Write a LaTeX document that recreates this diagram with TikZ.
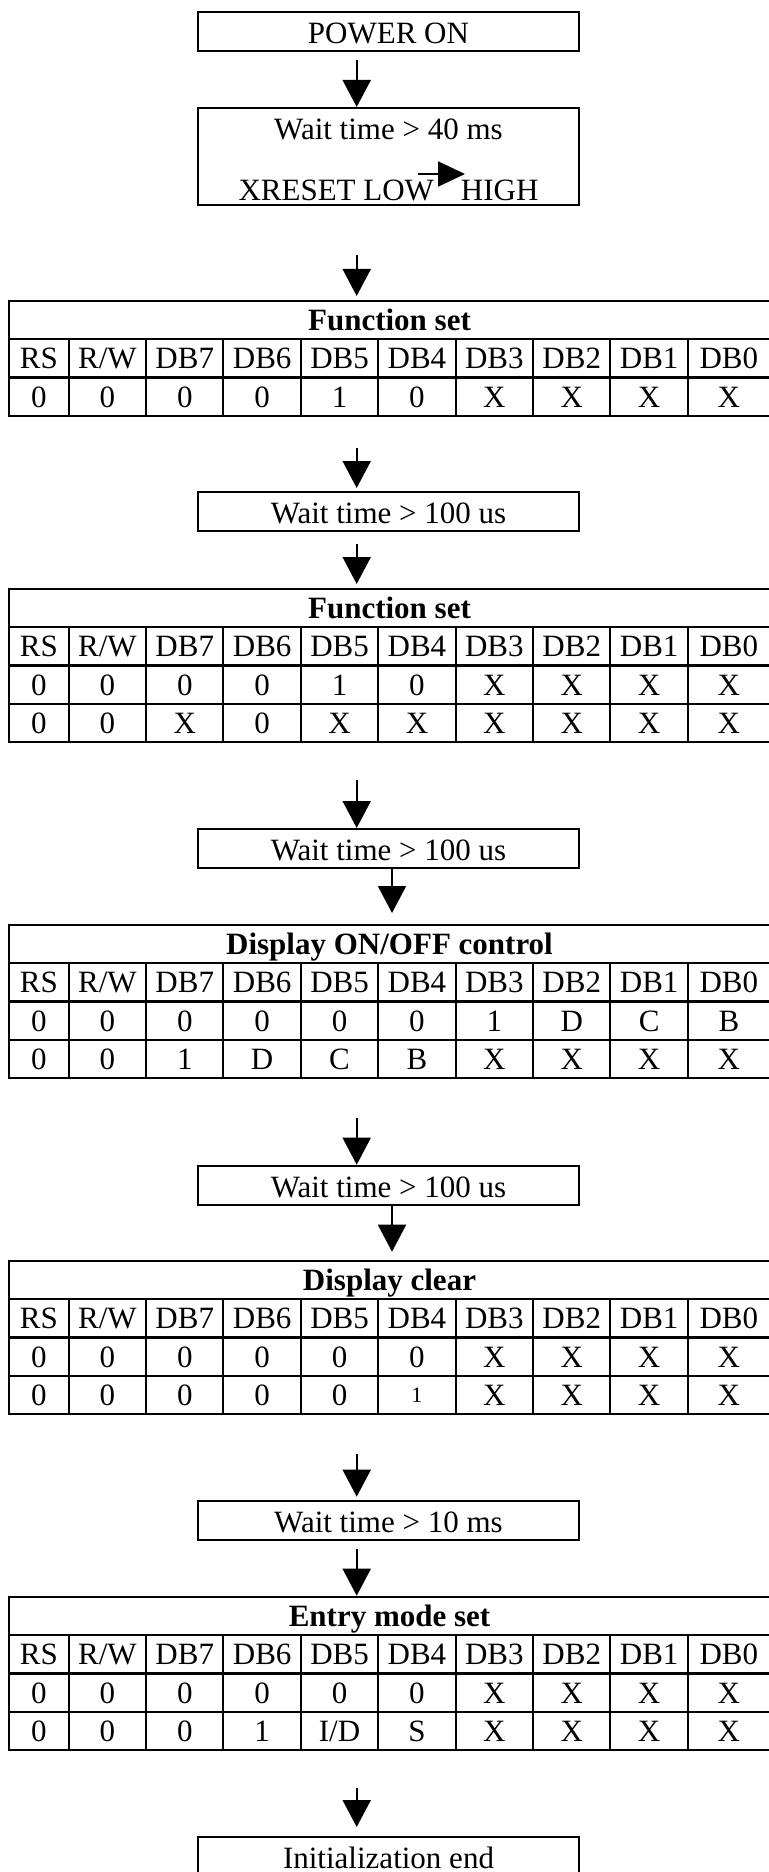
\documentclass[tikz,border=0pt]{standalone}
\usepackage{fontspec}
\setmainfont{Liberation Serif}
\usepackage{array}
\usetikzlibrary{positioning,calc,arrows.meta}
\newcolumntype{C}[1]{>{\centering\arraybackslash}p{#1}}
\newcolumntype{B}{|C{28.75pt}|C{37.7pt}|C{37.7pt}|C{37.7pt}|C{37.7pt}|C{37.7pt}|C{37.7pt}|C{37.7pt}|C{37.7pt}|C{40pt}}
\setlength{\arrayrulewidth}{1pt}
\setlength{\tabcolsep}{0pt}
\setlength{\extrarowheight}{5.7pt}
\newcommand{\bitnames}{RS & R/W & DB7 & DB6 & DB5 & DB4 & DB3 & DB2 & DB1 & DB0}
\newcommand{\hdrule}{\noalign{\hrule height 1.5pt}}

\begin{document}
\begin{tikzpicture}[
  bx/.style={draw,line width=1pt,minimum width=190.5pt,inner sep=0pt,%
    font={\fontsize{15.5}{30.5}\selectfont},},%
  sl/.style={bx,minimum height=19.5pt,text height=11.9pt,text depth=0pt,},%
  tb/.style={inner sep=0pt,outer sep=0pt,font={\fontsize{15.5}{12.3}\selectfont},},%
  e/.style={-{Triangle[length=13.5pt,width=14pt]},line width=1pt,},%
  ih/.style={-{Triangle[length=13.5pt,width=12.5pt]},line width=1pt,},%
  ]
  \useasboundingbox (0,0) rectangle (384pt,-936pt);

  \node (power) [sl] at (194.25pt,-15.85pt) {POWER ON};

  \node (wait) [bx,below=27.4pt of power,minimum height=48.5pt,align=center%
  ] {\rule{0pt}{13.4pt}Wait time > 40 ms\\XRESET LOW\hspace{13.5pt}HIGH};
  \coordinate (low) at ($(wait.center)+(14.75pt,-8.75pt)$);
  \coordinate (high) at ($(wait.center)+(38.25pt,-8.75pt)$);

  \node (fset) [tb,below=46.85pt of wait] {\begin{tabular}{B}
      \hline
      \multicolumn{10}{|c}{\bfseries Function set}\\ \hline
      \bitnames\\ \hdrule
      0 & 0 & 0 & 0 & 1 & 0 & X & X & X & X\\ \hline
    \end{tabular}};

  \node (wait2) [sl,below=37.15pt of fset] {Wait time > 100 us};

  \node (fset2) [tb,below=28pt of wait2] {\begin{tabular}{B}
      \hline
      \multicolumn{10}{|c}{\bfseries Function set}\\ \hline
      \bitnames\\ \hdrule
      0 & 0 & 0 & 0 & 1 & 0 & X & X & X & X\\ \hline
      0 & 0 & X & 0 & X & X & X & X & X & X\\ \hline
    \end{tabular}};

  \node (wait3) [sl,below=42.5pt of fset2] {Wait time > 100 us};

  \node (disp) [tb,below=27.5pt of wait3] {\begin{tabular}{B}
      \hline
      \multicolumn{10}{|c}{\bfseries Display ON/OFF control}\\ \hline
      \bitnames\\ \hdrule
      0 & 0 & 0 & 0 & 0 & 0 & 1 & D & C & B\\ \hline
      0 & 0 & 1 & D & C & B & X & X & X & X\\ \hline
    \end{tabular}};

  \node (wait4) [sl,below=42.85pt of disp] {Wait time > 100 us};

  \node (clear) [tb,below=27.15pt of wait4] {\begin{tabular}{B}
      \hline
      \multicolumn{10}{|c}{\bfseries Display clear}\\ \hline
      \bitnames\\ \hdrule
      0 & 0 & 0 & 0 & 0 & 0 & X & X & X & X\\ \hline
      0 & 0 & 0 & 0 & 0 & {\fontsize{11}{12}\selectfont\raisebox{1.5pt}{1}} & X & X & X & X\\ \hline
    \end{tabular}};

  \node (wait5) [sl,below=42.5pt of clear] {Wait time > 10 ms};

  \node (entry) [tb,below=27.35pt of wait5] {\begin{tabular}{B}
      \hline
      \multicolumn{10}{|c}{\bfseries Entry mode set}\\ \hline
      \bitnames\\ \hdrule
      0 & 0 & 0 & 0 & 0 & 0 & X & X & X & X\\ \hline
      0 & 0 & 0 & 1 & I/D & S & X & X & X & X\\ \hline
    \end{tabular}};

  \node (done) [sl,below=42.65pt of entry] {Initialization end};

  \draw [ih] (low) -- (high);
  \draw [e,shorten <=3.9pt] ([xshift=-15.9pt]power.south) -- ([xshift=-15.9pt]wait.north);
  \draw [e,shorten <=24.5pt,shorten >=1.85pt] ([xshift=-15.9pt]wait.south) -- ([xshift=-15.9pt]fset.north);
  \draw [e,shorten <=15.65pt,shorten >=1.5pt] ([xshift=-15.9pt]fset.south) -- ([xshift=-15.9pt]wait2.north);
  \draw [e,shorten <=6pt,shorten >=2pt] ([xshift=-15.9pt]wait2.south) -- ([xshift=-15.9pt]fset2.north);
  \draw [e,shorten <=18.5pt] ([xshift=-15.9pt]fset2.south) -- ([xshift=-15.9pt]wait3.north);
  \draw [e,shorten >=5.5pt] ([xshift=1.75pt]wait3.south) -- ([xshift=1.75pt]disp.north);
  \draw [e,shorten <=19.5pt] ([xshift=-15.9pt]disp.south) -- ([xshift=-15.9pt]wait4.north);
  \draw [e,shorten >=4.15pt] ([xshift=1.75pt]wait4.south) -- ([xshift=1.75pt]clear.north);
  \draw [e,shorten <=19.5pt,shorten >=1.65pt] ([xshift=-15.9pt]clear.south) -- ([xshift=-15.9pt]wait5.north);
  \draw [e,shorten <=4pt] ([xshift=-15.9pt]wait5.south) -- ([xshift=-15.9pt]entry.north);
  \draw [e,shorten <=18.65pt,shorten >=4.5pt] ([xshift=-15.9pt]entry.south) -- ([xshift=-15.9pt]done.north);
\end{tikzpicture}
\end{document}
